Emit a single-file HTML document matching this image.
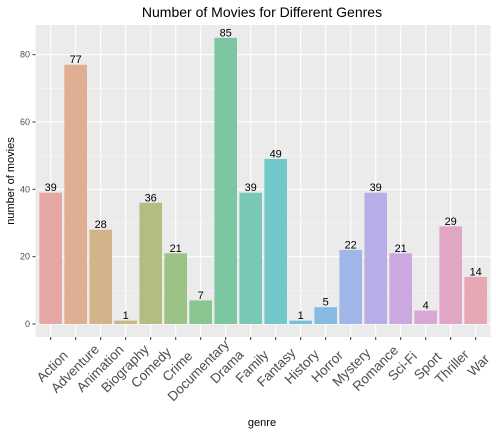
<!DOCTYPE html>
<html><head><meta charset="utf-8"><style>
body{margin:0;background:#fff;}
svg{display:block;font-family:"Liberation Sans",Arial,sans-serif;}
</style></head><body>
<svg id="chart" width="496" height="432">
<text x="262" y="17" text-anchor="middle" font-size="14" fill="#000">Number of Movies for Different Genres</text>
<rect x="35.5" y="25" width="455" height="312" fill="#ebebeb"/>
<g id="grid"></g><g id="bars"></g><g id="axes"></g>
<text x="262" y="426" text-anchor="middle" font-size="11" fill="#000">genre</text>
<text transform="translate(14,181) rotate(-90)" text-anchor="middle" font-size="11" fill="#000">number of movies</text>
</svg>
<script>
const genres=["Action","Adventure","Animation","Biography","Comedy","Crime","Documentary","Drama","Family","Fantasy","History","Horror","Mystery","Romance","Sci-Fi","Sport","Thriller","War"];
const counts=[39,77,28,1,36,21,7,85,39,49,1,5,22,39,21,4,29,14];
const yTicks=[0,20,40,60,80];
const colors=["#e5a7a3","#dfae93","#d3b38a","#c5b884","#b2bd82","#9dc285","#88c590","#7cc7a2","#79c8b6","#72c7c9","#74c2d9","#86bce4","#a0b5e8","#b8aee7","#cba9e0","#d8a7d6","#e1a6c5","#e6a8b4"];
const NS="http://www.w3.org/2000/svg";
const x0=35.7,step=25,bw=22.6;
const y=v=>324-v*3.367;
const xc=i=>x0+step*(i+0.6);
function mk(tag,attrs,parent){const e=document.createElementNS(NS,tag);for(const k in attrs)e.setAttribute(k,attrs[k]);parent.appendChild(e);return e;}
const grid=document.getElementById('grid'),bars=document.getElementById('bars'),axes=document.getElementById('axes');
for(let k=0;k<yTicks.length;k++){
  const v=yTicks[k];
  const m=v+10;
  if(y(m)>25){const l=mk('line',{x1:35.5,x2:490.5,y1:y(m),y2:y(m),stroke:'#f5f5f5','stroke-width':0.6},grid);
  
  }
  const g=mk('line',{x1:35.5,x2:490.5,y1:y(v),y2:y(v),stroke:'#fff','stroke-width':1.1},grid);
  
  
  const t=mk('text',{x:30,y:y(v)+3,'text-anchor':'end','font-size':9,fill:'#4d4d4d'},axes);t.textContent=v;
  
  
  mk('line',{x1:32.5,x2:35.5,y1:y(v),y2:y(v),stroke:'#333'},axes);
}
genres.forEach((gname,i)=>{
  const cx=xc(i);
  const vl=mk('line',{x1:cx,x2:cx,y1:25,y2:337,stroke:'#fff','stroke-width':1.1},grid);
  
  
  const r=mk('rect',{x:cx-bw/2,y:y(counts[i]),width:bw,height:y(0)-y(counts[i]),fill:colors[i]},bars);
  
  
  const lab=mk('text',{x:cx,y:y(counts[i])-1.5,'text-anchor':'middle','font-size':11,fill:'#000'},bars);
  lab.textContent=counts[i];
  
  
  mk('line',{x1:cx,x2:cx,y1:337,y2:340,stroke:'#333'},axes);
  const t=mk('text',{'text-anchor':'middle','dominant-baseline':'central','font-size':13.5,fill:'#4d4d4d'},axes);
  t.textContent=gname;
  
  
  const L=t.getComputedTextLength();
  const ax=cx+5-0.13*L*0.707, ay=363+0.13*L*0.707;
  t.setAttribute('transform','translate('+ax+','+ay+') rotate(-45)');
});
</script>
</body></html>
